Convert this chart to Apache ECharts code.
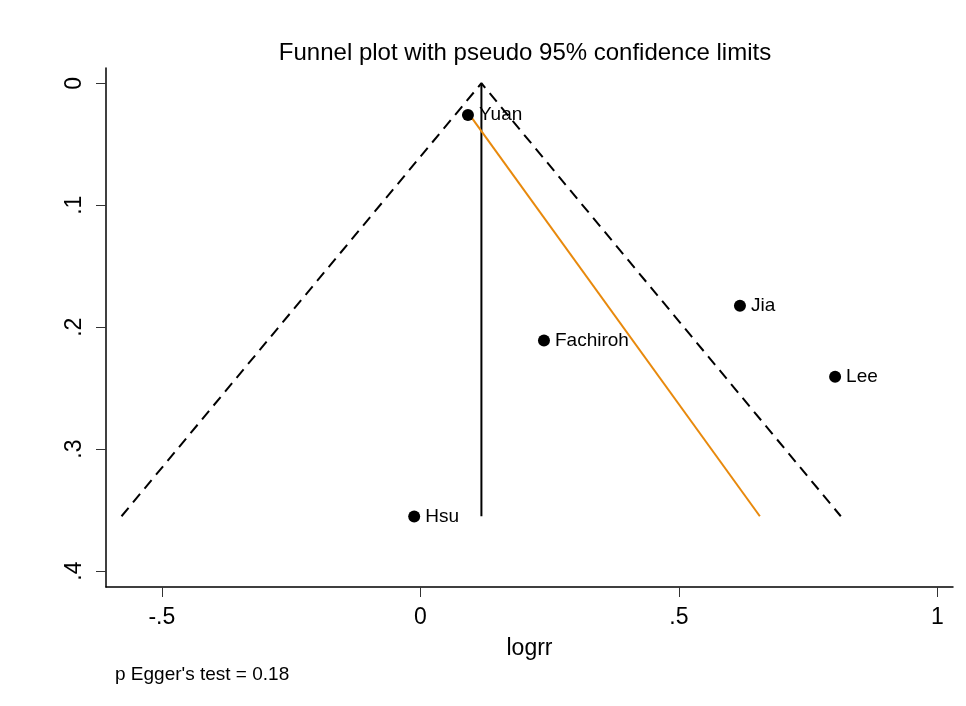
<!DOCTYPE html>
<html>
<head>
<meta charset="utf-8">
<script src="https://cdn.jsdelivr.net/npm/echarts@6/dist/echarts.min.js"></script>
<style>
  html, body { margin: 0; padding: 0; background: #fff; }
  #chart { width: 966px; height: 706px; }
</style>
</head>
<body>
<div id="chart"></div>
<script>
// Studies: log relative risk and its standard error
const studies = ['Yuan', 'Fachiroh', 'Jia', 'Lee', 'Hsu'];
const logrr = [0.092, 0.239, 0.618, 0.802, -0.012];
const seLogrr = [0.026, 0.211, 0.1825, 0.2407, 0.3552];

// Pooled estimate (vertical line) and pseudo 95% confidence limits
const pooledX = [0.118, 0.118];
const pooledSe = [0, 0.355];
const funnelX = [-0.578, 0.118, 0.813];
const funnelSe = [0.355, 0, 0.355];

// Egger regression line
const eggerX = [0.097, 0.6565];
const eggerSe = [0.027, 0.355];

// Axis ticks
const xTicks = [-0.5, 0, 0.5, 1];
const xTickLabels = ['-.5', '0', '.5', '1'];
const yTicks = [0, 0.1, 0.2, 0.3, 0.4];
const yTickLabels = ['0', '.1', '.2', '.3', '.4'];

const FONT = '"Liberation Sans", Arial, sans-serif';
const pairs = (xs, ys) => xs.map((x, i) => [x, ys[i]]);
const labelFor = (ticks, labels) => v => {
  const i = ticks.findIndex(t => Math.abs(t - v) < 1e-9);
  return i >= 0 ? labels[i] : '';
};

const chart = echarts.init(document.getElementById('chart'), null, { renderer: 'canvas' });
chart.setOption({
  backgroundColor: '#ffffff',
  animation: false,
  title: [{
    text: 'Funnel plot with pseudo 95% confidence limits',
    left: 520, top: 36, textAlign: 'center',
    textStyle: { fontFamily: FONT, fontSize: 24, fontWeight: 'normal', color: '#000' }
  }, {
    text: "p Egger's test = 0.18",
    left: 110, top: 660,
    textStyle: { fontFamily: FONT, fontSize: 19, fontWeight: 'normal', color: '#000' }
  }],
  grid: { left: 106, top: 68, width: 847, height: 519, containLabel: false },
  xAxis: {
    type: 'value',
    min: -0.608, max: 1.03,
    name: 'logrr', nameLocation: 'middle', nameGap: 50,
    nameTextStyle: { fontFamily: FONT, fontSize: 23, color: '#000' },
    axisLine: { onZero: false, lineStyle: { color: '#000', width: 1.5 } },
    axisTick: { show: true, length: 10, customValues: xTicks, lineStyle: { color: '#333', width: 1 } },
    axisLabel: {
      customValues: xTicks, margin: 19,
      formatter: labelFor(xTicks, xTickLabels),
      fontFamily: FONT, fontSize: 23, color: '#000'
    },
    splitLine: { show: false }
  },
  yAxis: {
    type: 'value',
    inverse: true,
    min: -0.0125, max: 0.413,
    axisLine: { onZero: false, lineStyle: { color: '#000', width: 1.5 } },
    axisTick: { show: true, length: 10, customValues: yTicks, lineStyle: { color: '#333', width: 1 } },
    axisLabel: {
      customValues: yTicks, rotate: 90, margin: 31,
      formatter: labelFor(yTicks, yTickLabels),
      fontFamily: FONT, fontSize: 23, color: '#000',
      verticalAlign: 'middle'
    },
    splitLine: { show: false }
  },
  series: [{
    type: 'line',
    data: pairs(funnelX, funnelSe),
    symbol: 'none',
    lineStyle: { color: '#000', width: 2, type: [11, 7] },
    z: 2
  }, {
    type: 'line',
    data: pairs(pooledX, pooledSe),
    symbol: 'none',
    lineStyle: { color: '#000', width: 2 },
    z: 3
  }, {
    type: 'line',
    data: pairs(eggerX, eggerSe),
    symbol: 'none',
    lineStyle: { color: '#E8890C', width: 2 },
    z: 3
  }, {
    type: 'scatter',
    data: logrr.map((x, i) => ({ value: [x, seLogrr[i]], name: studies[i] })),
    symbol: 'circle',
    symbolSize: 12,
    itemStyle: { color: '#000', opacity: 1 },
    label: {
      show: true, position: 'right', distance: 5,
      formatter: p => p.name,
      fontFamily: FONT, fontSize: 19, color: '#000', opacity: 1
    },
    emphasis: { disabled: true },
    z: 4
  }]
});
</script>
</body>
</html>
